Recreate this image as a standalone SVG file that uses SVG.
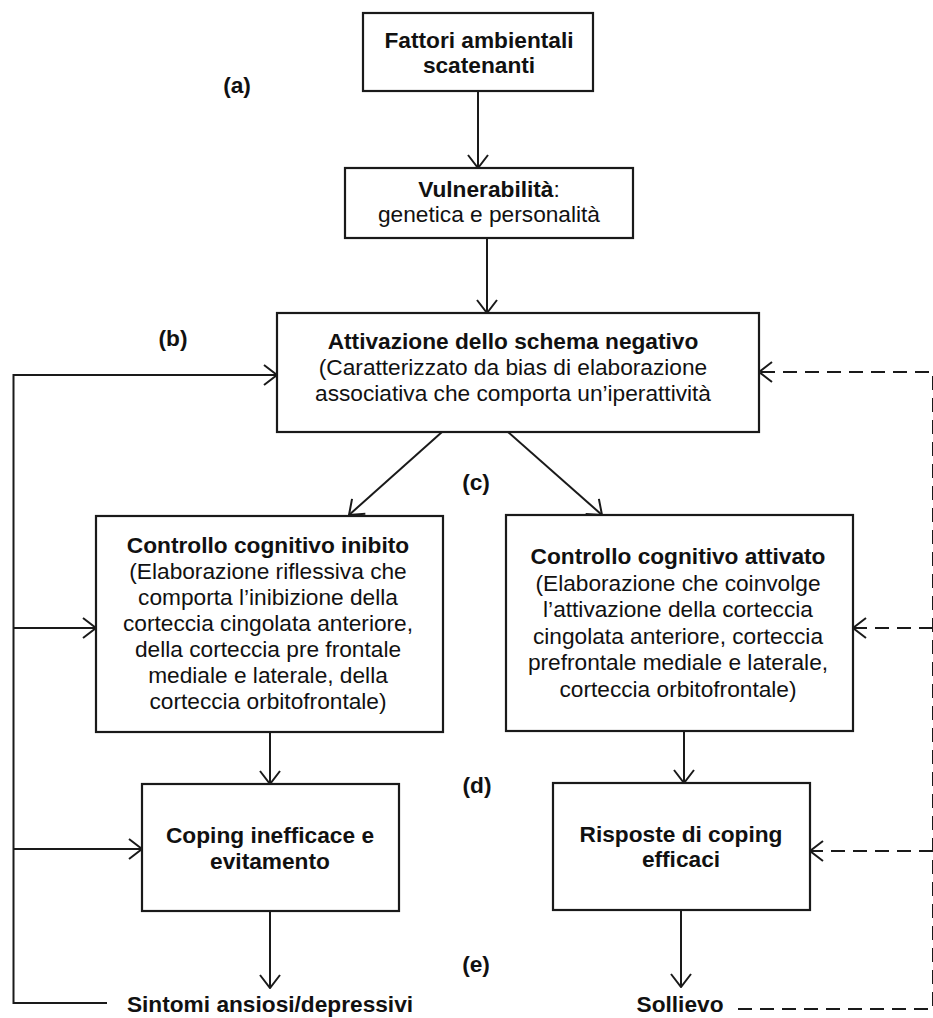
<svg xmlns="http://www.w3.org/2000/svg" width="933" height="1018" viewBox="0 0 933 1018">
<style>
.box{fill:#fff;stroke:#1a1a1a;stroke-width:2.2}
.t{font-family:"Liberation Sans",Arial,sans-serif;font-size:22.7px;fill:#111;text-anchor:middle}
.b{font-weight:bold}
.ln{fill:none;stroke:#1a1a1a;stroke-width:2}
.dash{stroke-dasharray:14 8}
</style>
<defs>
<marker id="ah" viewBox="0 0 15 22" refX="14" refY="11" markerWidth="15" markerHeight="22" markerUnits="userSpaceOnUse" orient="auto">
<path d="M1,1 L14,11 L1,21" fill="none" stroke="#1a1a1a" stroke-width="2"/>
</marker>
</defs>
<rect width="933" height="1018" fill="#fff"/>
<g id="connectors">
<path class="ln" d="M478,91 V168" marker-end="url(#ah)"/>
<path class="ln" d="M487,238 V313" marker-end="url(#ah)"/>
<path class="ln" d="M442,432 L349,515" marker-end="url(#ah)"/>
<path class="ln" d="M508,432 L602,515" marker-end="url(#ah)"/>
<path class="ln" d="M270,732 V784" marker-end="url(#ah)"/>
<path class="ln" d="M684,731 V783" marker-end="url(#ah)"/>
<path class="ln" d="M270,911 V988" marker-end="url(#ah)"/>
<path class="ln" d="M681,910 V987" marker-end="url(#ah)"/>
<path class="ln" d="M107,1003 H13.5 V375 H277" marker-end="url(#ah)"/>
<path class="ln" d="M13.5,628 H96" marker-end="url(#ah)"/>
<path class="ln" d="M13.5,849 H142" marker-end="url(#ah)"/>
<path class="ln dash" d="M738,1009 H933 V372 H759" marker-end="url(#ah)"/>
<path class="ln dash" d="M933,628 H853" marker-end="url(#ah)"/>
<path class="ln dash" d="M933,851 H810" marker-end="url(#ah)"/>
</g>
<g id="labels">
<text class="t b" x="237" y="93">(a)</text>
<text class="t b" x="173" y="346">(b)</text>
<text class="t b" x="476" y="490">(c)</text>
<text class="t b" x="477" y="793">(d)</text>
<text class="t b" x="476" y="972">(e)</text>
</g>
<g id="n1">
<rect class="box" x="363" y="13" width="230" height="78"/>
<text class="t b" x="479" y="48">Fattori ambientali</text>
<text class="t b" x="479" y="73">scatenanti</text>
</g>
<g id="n2">
<rect class="box" x="345" y="168" width="288" height="70"/>
<text class="t" x="489" y="197"><tspan class="b">Vulnerabilità</tspan>:</text>
<text class="t" x="489" y="222">genetica e personalità</text>
</g>
<g id="n3">
<rect class="box" x="277" y="313" width="482" height="119"/>
<text class="t b" x="513" y="349">Attivazione dello schema negativo</text>
<text class="t" x="513" y="375">(Caratterizzato da bias di elaborazione</text>
<text class="t" x="513" y="401">associativa che comporta un’iperattività</text>
</g>
<g id="n4">
<rect class="box" x="96" y="516" width="347" height="216"/>
<text class="t b" x="268" y="553">Controllo cognitivo inibito</text>
<text class="t" x="268" y="579">(Elaborazione riflessiva che</text>
<text class="t" x="268" y="605">comporta l’inibizione della</text>
<text class="t" x="268" y="631">corteccia cingolata anteriore,</text>
<text class="t" x="268" y="657">della corteccia pre frontale</text>
<text class="t" x="268" y="683">mediale e laterale, della</text>
<text class="t" x="268" y="709">corteccia orbitofrontale)</text>
</g>
<g id="n5">
<rect class="box" x="506" y="515" width="347" height="216"/>
<text class="t b" x="678" y="564">Controllo cognitivo attivato</text>
<text class="t" x="678" y="590.5">(Elaborazione che coinvolge</text>
<text class="t" x="678" y="617">l’attivazione della corteccia</text>
<text class="t" x="678" y="643.5">cingolata anteriore, corteccia</text>
<text class="t" x="678" y="670">prefrontale mediale e laterale,</text>
<text class="t" x="678" y="696.5">corteccia orbitofrontale)</text>
</g>
<g id="n6">
<rect class="box" x="142" y="784" width="257" height="127"/>
<text class="t b" x="270" y="843">Coping inefficace e</text>
<text class="t b" x="270" y="869">evitamento</text>
</g>
<g id="n7">
<rect class="box" x="553" y="783" width="257" height="127"/>
<text class="t b" x="681" y="842">Risposte di coping</text>
<text class="t b" x="681" y="867">efficaci</text>
</g>
<g id="n8">
<text class="t b" x="270" y="1012">Sintomi ansiosi/depressivi</text>
</g>
<g id="n9">
<text class="t b" x="680" y="1012">Sollievo</text>
</g>
</svg>
